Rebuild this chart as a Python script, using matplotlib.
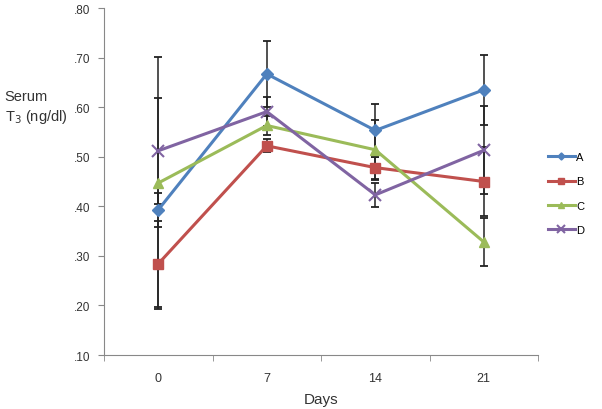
import numpy as np
import matplotlib.pyplot as plt

plt.rcParams['font.family'] = ['Liberation Sans', 'DejaVu Sans']

days = ["0", "7", "14", "21"]
series_names = ["A", "B", "C", "D"]
values = {
    "A": [0.393, 0.667, 0.553, 0.635],
    "B": [0.284, 0.522, 0.478, 0.450],
    "C": [0.447, 0.563, 0.514, 0.328],
    "D": [0.512, 0.591, 0.423, 0.513],
}
errors = {
    "A": [0.034, 0.066, 0.054, 0.070],
    "B": [0.087, 0.013, 0.022, 0.070],
    "C": [0.255, 0.020, 0.060, 0.048],
    "D": [0.107, 0.030, 0.024, 0.089],
}
colors = {"A": "#4F81BD", "B": "#C0504D", "C": "#9BBB59", "D": "#8064A2"}
markers = {"A": "D", "B": "s", "C": "^", "D": "x"}
msizes = {"A": 6, "B": 7.5, "C": 7.5, "D": 9}

fig = plt.figure(figsize=(6.02, 4.10), dpi=100)
ax = fig.add_axes([0.1728, 0.1317, 0.721, 0.8463])

x = np.arange(len(days))
for name in series_names:
    ax.errorbar(x, values[name], yerr=errors[name], fmt="none",
                ecolor="#222222", elinewidth=1.1, capsize=3, capthick=1.3,
                zorder=2)
for name in series_names:
    ax.plot(x, values[name], color=colors[name], lw=2.2,
            marker=markers[name], ms=msizes[name], mew=1.5 if name == "D" else 1,
            label=name, zorder=3)

ax.set_xlim(-0.5, 3.5)
ax.set_ylim(0.10, 0.80)
ax.set_yticks(np.arange(0.10, 0.81, 0.10))
ax.set_yticklabels([".10", ".20", ".30", ".40", ".50", ".60", ".70", ".80"])
ax.set_xticks(x)
ax.set_xticklabels(days)
ax.set_xticks(np.arange(-0.5, 3.6, 1.0), minor=True)
ax.tick_params(axis="x", which="major", length=0, pad=12, labelsize=9,
               labelcolor="#333333")
ax.tick_params(axis="x", which="minor", length=4, color="#888888")
ax.tick_params(axis="y", length=4, color="#888888", labelsize=8.5,
               labelcolor="#333333", pad=6)

for side in ["top", "right"]:
    ax.spines[side].set_visible(False)
for side in ["left", "bottom"]:
    ax.spines[side].set_color("#888888")

ax.set_xlabel("Days", fontsize=11, color="#333333", labelpad=6)
fig.text(0.008, 0.737, "Serum\nT$_3$ (ng/dl)", fontsize=10.5, color="#333333",
         ha="left", va="center", linespacing=1.35)

ax.legend(loc="center left", bbox_to_anchor=(1.0, 0.465), frameon=False,
          fontsize=8, handlelength=2.4, labelspacing=1.3, handletextpad=0.15,
          markerscale=0.6)

fig.savefig("out.png", dpi=100)
